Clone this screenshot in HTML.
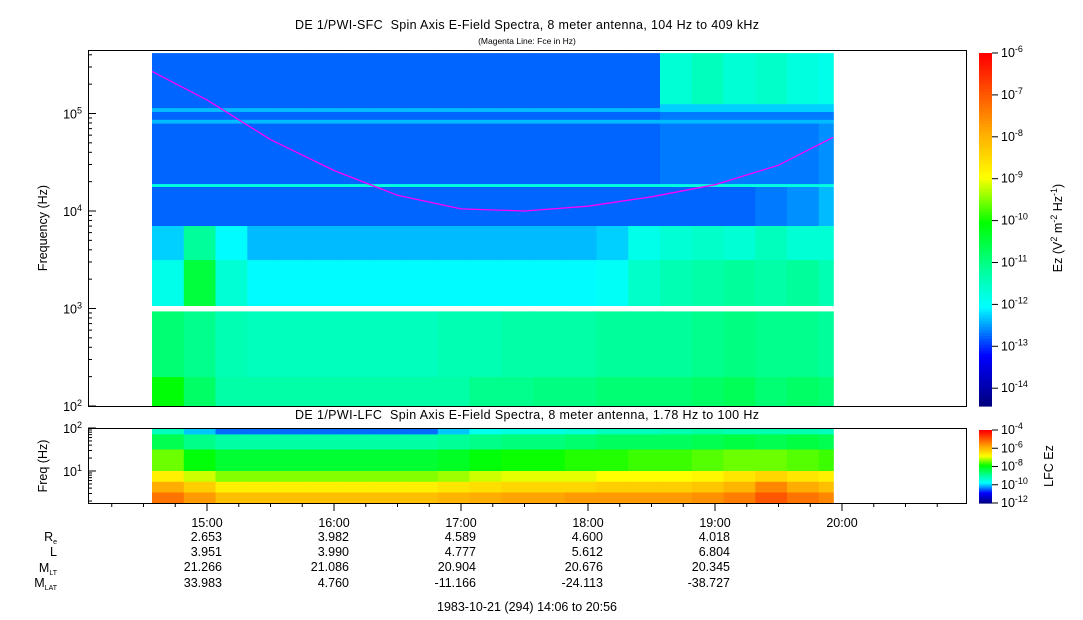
<!DOCTYPE html>
<html><head><meta charset="utf-8"><style>
body{margin:0;background:#fff;}
svg{display:block;font-family:"Liberation Sans",sans-serif;}
text{white-space:pre;}
</style></head><body>
<svg id="chart" width="1083" height="620" viewBox="0 0 1083 620" xmlns="http://www.w3.org/2000/svg">
<text x="527" y="29" font-size="12.5" text-anchor="middle" textLength="464">DE 1/PWI-SFC  Spin Axis E-Field Spectra, 8 meter antenna, 104 Hz to 409 kHz</text>
<text x="527" y="44" font-size="8.5" text-anchor="middle">(Magenta Line: Fce in Hz)</text>
<text x="527" y="419" font-size="12.5" text-anchor="middle" textLength="464">DE 1/PWI-LFC  Spin Axis E-Field Spectra, 8 meter antenna, 1.78 Hz to 100 Hz</text>
<g id="sfc"></g>
<g id="lfc"></g>
<polyline id="fce" fill="none" stroke="#ff00ff" stroke-width="1.3"/>
<rect x="88.5" y="50.5" width="878" height="356" fill="none" stroke="#000"/>
<rect x="88.5" y="428.5" width="878" height="75" fill="none" stroke="#000"/>
<g id="axes" font-size="12.5"></g>
<text transform="translate(47,228) rotate(-90)" font-size="12.5" text-anchor="middle">Frequency (Hz)</text>
<text transform="translate(47,466) rotate(-90)" font-size="12.5" text-anchor="middle">Freq (Hz)</text>
<text transform="translate(1062,228) rotate(-90)" font-size="12.5" text-anchor="middle">Ez (V<tspan font-size="9" dy="-5">2</tspan><tspan dy="5"> m</tspan><tspan font-size="9" dy="-5">-2</tspan><tspan dy="5"> Hz</tspan><tspan font-size="9" dy="-5">-1</tspan><tspan dy="5">)</tspan></text>
<text transform="translate(1053,466) rotate(-90)" font-size="12.5" text-anchor="middle">LFC Ez</text>
<g font-size="12.5" text-anchor="end">
<text x="57" y="541">R<tspan font-size="7" dy="3">e</tspan></text>
<text x="57" y="556">L</text>
<text x="57" y="572">M<tspan font-size="7" dy="3">LT</tspan></text>
<text x="57" y="587">M<tspan font-size="7" dy="3">LAT</tspan></text>
</g>
<text x="527" y="611" font-size="12.5" text-anchor="middle">1983-10-21 (294) 14:06 to 20:56</text>
</svg>
<script>
const NS='http://www.w3.org/2000/svg';
// time columns: 15-minute bins from 14:34
const colStart=14.567, colStep=0.25, dataEnd=19.93;
const sfcRowsLog=[[2.0,2.3],[2.3,2.97],[3.03,3.5],[3.5,3.85],[3.85,4.25],[4.25,4.28],[4.28,4.9],[4.9,4.94],[4.94,5.02],[5.02,5.06],[5.06,5.1],[5.1,5.62]];
const sfcR1=[-10.1,-10.8,-11.3,-11.3,-11.3,-11.3,-11.3,-11.3,-11.3,-11.3,-11.1,-11.1,-11,-11,-10.9,-10.9,-10.9,-10.8,-10.7,-10.9,-10.8,-10.9];
const sfcR2=[-10.9,-11.1,-11.4,-11.5,-11.5,-11.5,-11.5,-11.5,-11.5,-11.4,-11.4,-11.3,-11.3,-11.3,-11.2,-11.2,-11.2,-11.1,-11,-11.1,-11.1,-11.2];
const sfcR3=[-11.9,-10.5,-11.7,-12.1,-12.1,-12.1,-12.1,-12.1,-12.1,-12.1,-12.1,-12.1,-12.1,-12.1,-12,-11.6,-11.4,-11.3,-11.2,-11.3,-11.2,-11.4];
const sfcR4=[-12.3,-11.2,-12.1,-12.4,-12.4,-12.4,-12.4,-12.4,-12.4,-12.4,-12.4,-12.4,-12.4,-12.4,-12.3,-11.9,-11.7,-11.6,-11.7,-11.5,-11.7,-11.7];
const sfcR5=[-12.8,-12.8,-12.8,-12.8,-12.8,-12.8,-12.8,-12.8,-12.8,-12.8,-12.8,-12.8,-12.8,-12.8,-12.8,-12.8,-12.8,-12.8,-12.8,-12.7,-12.6,-12.4];
const sfcLine18k=[-11.8,-11.8,-11.8,-11.8,-11.8,-11.8,-11.8,-11.8,-11.8,-11.8,-11.8,-11.8,-11.8,-11.8,-11.8,-11.8,-11.8,-11.8,-11.8,-11.8,-11.8,-11.8];
const sfcR6=[-12.8,-12.8,-12.8,-12.8,-12.8,-12.8,-12.8,-12.8,-12.8,-12.8,-12.8,-12.8,-12.8,-12.8,-12.8,-12.8,-12.7,-12.7,-12.7,-12.7,-12.7,-12.6];
const sfcLineA=[-12.4,-12.4,-12.4,-12.4,-12.4,-12.4,-12.4,-12.4,-12.4,-12.4,-12.4,-12.4,-12.4,-12.4,-12.4,-12.4,-12.4,-12.4,-12.4,-12.4,-12.4,-12.4];
const sfcR7=[-12.8,-12.8,-12.8,-12.8,-12.8,-12.8,-12.8,-12.8,-12.8,-12.8,-12.8,-12.8,-12.8,-12.8,-12.8,-12.8,-12.7,-12.7,-12.7,-12.7,-12.7,-12.7];
const sfcLineB=[-12.4,-12.4,-12.4,-12.4,-12.4,-12.4,-12.4,-12.4,-12.4,-12.4,-12.4,-12.4,-12.4,-12.4,-12.4,-12.4,-12.3,-12.3,-12.3,-12.3,-12.3,-12.3];
const sfcR8=[-12.8,-12.8,-12.8,-12.8,-12.8,-12.8,-12.8,-12.8,-12.8,-12.8,-12.8,-12.8,-12.8,-12.8,-12.8,-12.8,-12.3,-12.3,-12.3,-12.3,-12.3,-12.3];
const sfcR9=[-12.8,-12.8,-12.8,-12.8,-12.8,-12.8,-12.8,-12.8,-12.8,-12.8,-12.8,-12.8,-12.8,-12.8,-12.8,-12.8,-11.7,-11.5,-11.7,-11.6,-11.8,-11.9];
const sfcValues=[sfcR1,sfcR2,sfcR3,sfcR4,sfcR5,sfcLine18k,sfcR6,sfcLineA,sfcR7,sfcLineB,sfcR8,sfcR9];
const lfcRowsLog=[[1.85,2.0],[1.5,1.85],[1.0,1.5],[0.75,1.0],[0.5,0.75],[0.25,0.5]];
const lfcL1=[-9.2,-10,-10.4,-10.4,-10.4,-10.4,-10.4,-10.4,-10.4,-10,-9.6,-9.5,-9.5,-9.4,-9.2,-9.2,-9.1,-9,-9.1,-9.1,-9.1,-9.2];
const lfcL2=[-8.4,-8.8,-9,-9,-9,-9,-9,-9,-9,-8.9,-8.8,-8.7,-8.7,-8.6,-8.5,-8.5,-8.5,-8.4,-8.3,-8.4,-8.3,-8.4];
const lfcL3=[-7.4,-7.9,-8.2,-8.2,-8.2,-8.2,-8.2,-8.2,-8.2,-8.1,-7.9,-7.8,-7.8,-7.7,-7.7,-7.6,-7.6,-7.5,-7.4,-7.4,-7.5,-7.6];
const lfcL4=[-6.6,-7,-7.3,-7.3,-7.3,-7.3,-7.3,-7.3,-7.3,-7.2,-7,-6.9,-6.9,-6.9,-6.8,-6.8,-6.8,-6.7,-6.5,-6.3,-6.5,-6.6];
const lfcL5=[-5.8,-6.2,-6.6,-6.6,-6.6,-6.6,-6.6,-6.6,-6.6,-6.5,-6.4,-6.3,-6.3,-6.3,-6.2,-6.2,-6.2,-6.1,-5.9,-5.4,-5.8,-6];
const lfcL6=[-5.2,-5.6,-6,-6,-6,-6,-6,-6,-6,-5.9,-5.8,-5.7,-5.7,-5.6,-5.6,-5.6,-5.6,-5.5,-5.3,-4.9,-5.2,-5.4];
const lfcValues=[lfcL1,lfcL2,lfcL3,lfcL4,lfcL5,lfcL6];
const fceTimes=[14.567,15,15.5,16,16.5,17,17.5,18,18.5,19,19.5,19.93];
const fceHz=[270000,138000,54000,26000,14500,10500,10000,11200,14000,18600,29500,57000];
const timeTicks=['15:00','16:00','17:00','18:00','19:00','20:00'];
const tickHours=[15,16,17,18,19,20];
const reVals=['2.653','3.982','4.589','4.600','4.018'];
const lVals=['3.951','3.990','4.777','5.612','6.804'];
const mltVals=['21.266','21.086','20.904','20.676','20.345'];
const mlatVals=['33.983','4.760','-11.166','-24.113','-38.727'];

const X=h=>80+(h-14)*127;
const Ys=lf=>406-(lf-2)*97.5;
const Yl=lf=>428+(2-lf)*43;
const stops=[[0,[0,0,128]],[0.14,[0,0,255]],[0.28,[0,255,255]],[0.38,[0,255,160]],[0.52,[0,255,0]],[0.65,[255,255,0]],[0.78,[255,170,0]],[1,[255,0,0]]];
function cmap(t){t=Math.max(0,Math.min(1,t));for(let i=1;i<stops.length;i++){if(t<=stops[i][0]){const a=stops[i-1],b=stops[i],f=(t-a[0])/(b[0]-a[0]);const c=a[1].map((v,k)=>Math.round(v+(b[1][k]-v)*f));return `rgb(${c})`;}}return 'rgb(255,0,0)';}
function mk(tag,attrs,parent){const e=document.createElementNS(NS,tag);for(const k in attrs)e.setAttribute(k,attrs[k]);parent.appendChild(e);return e;}
function heat(g,rows,vals,Y,vmin,vmax,nm){
  rows.forEach((r,ri)=>{vals[ri].forEach((v,ci)=>{
    const t0=colStart+ci*colStep,t1=Math.min(dataEnd,t0+colStep);
    const x0=X(t0),x1=X(t1);
    const e=mk('rect',{x:x0.toFixed(1),y:Y(r[1]).toFixed(1),width:(x1-x0+0.6).toFixed(1),height:(Y(r[0])-Y(r[1])+0.4).toFixed(1),fill:cmap((v-vmin)/(vmax-vmin))},g);
    
    
  });});
}
heat(document.getElementById('sfc'),sfcRowsLog,sfcValues,Ys,-14.45,-6,'sfc');
heat(document.getElementById('lfc'),lfcRowsLog,lfcValues,Yl,-12,-4,'lfc');
document.getElementById('fce').setAttribute('points',fceTimes.map((t,i)=>X(t).toFixed(1)+','+Ys(Math.log10(fceHz[i])).toFixed(1)).join(' '));

const ax=document.getElementById('axes');
for(let i=0;i<120;i++){
  const t=i/119;
  const c1=mk('rect',{x:979,y:(406-(i+1)*353/120).toFixed(1),width:13,height:3.5,fill:cmap(t)},ax);
  
  const c2=mk('rect',{x:979,y:(503-(i+1)*73/120).toFixed(1),width:13,height:1.2,fill:cmap(t)},ax);
  
}
function sup(x,y,base,exp,parent,anchor){const t=mk('text',{x:x,y:y,'text-anchor':anchor||'start'},parent);t.textContent=base;const s=mk('tspan',{'font-size':9,dy:-5},t);s.textContent=exp;return t;}
for(let e=-6;e>=-14;e--){const y=53+(-6-e)*41.9;mk('line',{x1:992,x2:998,y1:y,y2:y,stroke:'#000'},ax);const t=sup(1001,y+4,'10',String(e),ax);}
for(let e=-4;e>=-12;e-=2){const y=430+(-4-e)*73/8;mk('line',{x1:992,x2:998,y1:y,y2:y,stroke:'#000'},ax);const t=sup(1001,y+4,'10',String(e),ax);}
for(let d=2;d<=5;d++){const y=Ys(d);mk('line',{x1:88,x2:96,y1:y,y2:y,stroke:'#000'},ax);const t=sup(82,y+5,'10',String(d),ax,'end');
  for(let m=2;m<10;m++){const lf=d+Math.log10(m);if(lf>5.61)break;const yy=Ys(lf);mk('line',{x1:88,x2:92,y1:yy,y2:yy,stroke:'#000'},ax);}}
for(let d=1;d<=2;d++){const y=Yl(d);mk('line',{x1:88,x2:96,y1:y,y2:y,stroke:'#000'},ax);const t=sup(82,y+5,'10',String(d),ax,'end');}
for(let m=2;m<10;m++){[0,1].forEach(d=>{const lf=d+Math.log10(m);if(lf<0.25||lf>2)return;const yy=Yl(lf);mk('line',{x1:88,x2:92,y1:yy,y2:yy,stroke:'#000'},ax);});}
for(let q=14.25;q<=20.9;q+=0.25){const x=X(q);const maj=Math.abs(q-Math.round(q))<0.01;mk('line',{x1:x,x2:x,y1:503,y2:maj?511:507,stroke:'#000'},ax);}
const rowsY=[527,541,556,571,587];
tickHours.forEach((h,i)=>{const t=mk('text',{x:X(h),y:rowsY[0],'text-anchor':'middle'},ax);t.textContent=timeTicks[i];});
[reVals,lVals,mltVals,mlatVals].forEach((arr,r)=>arr.forEach((v,i)=>{const t=mk('text',{x:X(tickHours[i])+15,y:rowsY[r+1],'text-anchor':'end'},ax);t.textContent=v;}));
</script>
</body></html>
